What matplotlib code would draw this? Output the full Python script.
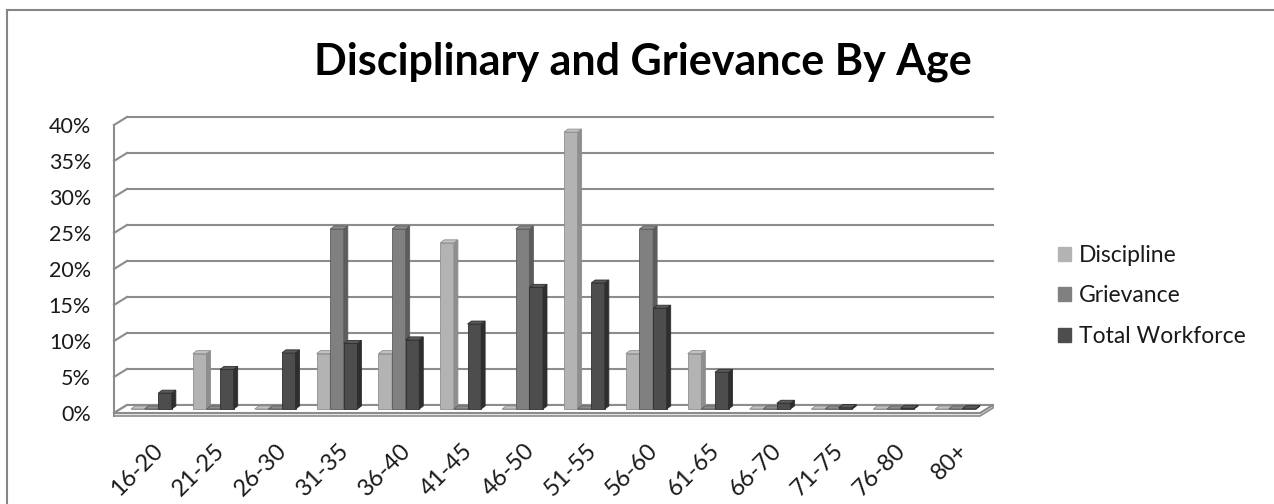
import matplotlib
matplotlib.use("Agg")
import matplotlib.pyplot as plt
from matplotlib.patches import Polygon, Rectangle, Patch

ages = ["16-20", "21-25", "26-30", "31-35", "36-40", "41-45", "46-50",
        "51-55", "56-60", "61-65", "66-70", "71-75", "76-80", "80+"]
discipline = [0, 7.69, 0, 7.69, 7.69, 23.08, 0, 38.46, 7.69, 7.69, 0, 0, 0, 0]
grievance = [0, 0, 0, 25, 25, 0, 25, 0, 25, 0, 0, 0, 0, 0]
workforce = [2.2, 5.5, 7.8, 9.1, 9.6, 11.8, 16.9, 17.5, 14.0, 5.1, 0.8, 0.2, 0.1, 0.05]
yticks = [0, 5, 10, 15, 20, 25, 30, 35, 40]

series = [
    ("Discipline", discipline, "#b3b3b3", "#8e8e8e", "#c2c2c2"),
    ("Grievance", grievance, "#808080", "#5c5c5c", "#8e8e8e"),
    ("Total Workforce", workforce, "#4d4d4d", "#2e2e2e", "#595959"),
]

plt.rcParams["font.family"] = ["Lato", "DejaVu Sans"]
txt_c = "#1a1a1a"

W, H, DPI = 1274, 504, 100
fig = plt.figure(figsize=(W / DPI, H / DPI), dpi=DPI)

# plot area in pixels (front plane)
left, right, top, bottom = 114, 980, 125, 413
ax = fig.add_axes([left / W, (H - bottom) / H, (right - left) / W, (bottom - top) / H])
ax.set_xlim(-0.5, len(ages) - 0.5)
ax.set_ylim(0, 40)
ax.axis("off")

px_x = (right - left) / len(ages)   # pixels per category
px_y = (bottom - top) / 40.0        # pixels per percent

# depth of the wall / floor and of each column
wall_dx, wall_dy = 13 / px_x, 8 / px_y
bar_dx, bar_dy = 4 / px_x, 3 / px_y
base_dx, base_dy = 0.5 * wall_dx, 0.5 * wall_dy

grid_c = "#8c8c8c"
x0, x1 = -0.5, len(ages) - 0.5

# floor slab
slab = 3 / px_y
ax.add_patch(Polygon([(x0, 0), (x1, 0), (x1 + wall_dx, wall_dy), (x0 + wall_dx, wall_dy)],
                     closed=True, facecolor="white", edgecolor=grid_c, lw=1.5, zorder=1,
                     clip_on=False))
ax.add_patch(Polygon([(x0, -slab), (x1, -slab), (x1 + wall_dx, wall_dy - slab),
                      (x1 + wall_dx, wall_dy), (x1, 0), (x0, 0)],
                     closed=True, facecolor="#e6e6e6", edgecolor=grid_c, lw=1.2, zorder=0.9,
                     clip_on=False))

# back wall gridlines and left wall
for v in yticks:
    ax.plot([x0 + wall_dx, x1 + wall_dx], [v + wall_dy, v + wall_dy], color=grid_c, lw=1.5,
            zorder=0.5, clip_on=False)
    ax.plot([x0, x0 + wall_dx], [v, v + wall_dy], color=grid_c, lw=1.5, zorder=0.5, clip_on=False)
ax.plot([x0, x0], [-slab, 40], color=grid_c, lw=1.5, zorder=0.5, clip_on=False)

bw = 0.22
z = 2
for i in range(len(ages)):
    for k, (name, vals, face, side, topc) in enumerate(series):
        h = vals[i]
        bx = i + (k - 1.5) * bw + base_dx
        by = base_dy
        ax.add_patch(Rectangle((bx, by), bw, h, facecolor=face, edgecolor=side, lw=0.6, zorder=z,
                               clip_on=False))
        ax.add_patch(Polygon([(bx + bw, by), (bx + bw + bar_dx, by + bar_dy),
                              (bx + bw + bar_dx, by + h + bar_dy), (bx + bw, by + h)],
                             closed=True, facecolor=side, edgecolor=side, lw=0.6, zorder=z,
                             clip_on=False))
        ax.add_patch(Polygon([(bx, by + h), (bx + bw, by + h), (bx + bw + bar_dx, by + h + bar_dy),
                              (bx + bar_dx, by + h + bar_dy)],
                             closed=True, facecolor=topc, edgecolor=side, lw=0.6, zorder=z,
                             clip_on=False))
        z += 0.01

# axis labels
for v in yticks:
    ypix = bottom - v * px_y
    fig.text(91 / W, 1 - (ypix + 2) / H, f"{v}%", ha="right", va="center", fontsize=15.5,
             color=txt_c)
for i, lab in enumerate(ages):
    ax.text(i + 0.12, -27 / px_y, lab, ha="right", va="top", rotation=45,
            rotation_mode="anchor", fontsize=17, color=txt_c)

fig.text(0.505, 1 - 62 / H, "Disciplinary and Grievance By Age", ha="center", va="center",
         fontsize=31, fontweight="bold", color="black")

handles = [Patch(facecolor=s[2], edgecolor=s[2], label=s[0]) for s in series]
fig.legend(handles=handles, loc="center left", bbox_to_anchor=(1058 / W, 1 - 296 / H),
           frameon=False, fontsize=16.5, handlelength=0.55, handleheight=0.55,
           handletextpad=0.35, labelspacing=0.85, borderpad=0, borderaxespad=0,
           labelcolor=txt_c)

# chart border: only the top and left edges fall inside the frame
fig.add_artist(plt.Line2D([7 / W, 7 / W], [0, 1 - 10 / H], transform=fig.transFigure,
                          color="#868686", lw=1.5))
fig.add_artist(plt.Line2D([7 / W, 1], [1 - 10 / H, 1 - 10 / H], transform=fig.transFigure,
                          color="#868686", lw=1.5))

fig.savefig("out.png", dpi=DPI)
